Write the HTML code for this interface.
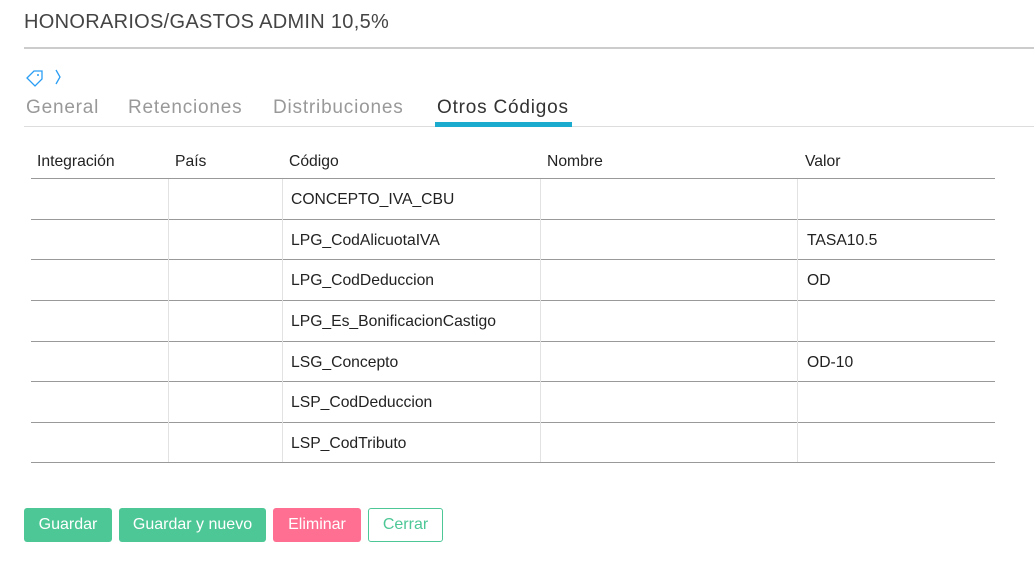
<!DOCTYPE html><html><head><style>
body{margin:0;width:1034px;height:569px;background:#fff;position:relative;overflow:hidden;font-family:"Liberation Sans",sans-serif}
.a{position:absolute;white-space:nowrap}
.t{font-size:19px;color:#999;top:97px;letter-spacing:0.8px}
.h{font-size:15.7px;color:#222;top:153px}
.c{font-size:15.7px;color:#222}
.hl{position:absolute;left:31px;width:964px;height:1px;background:#999}
.vl{position:absolute;top:179px;height:283px;width:1px;background:#e2e2e2}
.b{position:absolute;top:508px;height:34px;line-height:34px;text-align:center;color:#fff;font-size:16px;border-radius:3px;box-sizing:border-box}
</style></head><body>
<div class="a" style="left:24px;top:11px;font-size:20px;color:#444;letter-spacing:0.3px">HONORARIOS/GASTOS ADMIN 10,5%</div>
<div class="a" style="left:24px;top:47px;width:1010px;height:2px;background:#ccc"></div>
<svg class="a" style="left:25px;top:68px" width="40" height="20"><path d="M2 10 L9 3 L17 3 L17 11 L10 18 Z" fill="none" stroke="#2a9df4" stroke-width="1.3"/><circle cx="13" cy="7" r="1" fill="#2a9df4"/><path d="M31 2 L35 9 L31 16" fill="none" stroke="#2a9df4" stroke-width="1.3"/></svg>
<div class="a t" style="left:26px">General</div>
<div class="a t" style="left:128px">Retenciones</div>
<div class="a t" style="left:273px">Distribuciones</div>
<div class="a t" style="left:437px;color:#333">Otros Códigos</div>
<div class="a" style="left:24px;top:126px;width:1010px;height:1px;background:#ddd"></div>
<div class="a" style="left:435px;top:122px;width:137px;height:5px;background:#1aabcf"></div>
<div class="a h" style="left:37px">Integración</div>
<div class="a h" style="left:175px">País</div>
<div class="a h" style="left:289px">Código</div>
<div class="a h" style="left:547px">Nombre</div>
<div class="a h" style="left:805px">Valor</div>
<div class="hl" style="top:178px"></div>
<div class="hl" style="top:219px"></div>
<div class="hl" style="top:259px"></div>
<div class="hl" style="top:300px"></div>
<div class="hl" style="top:341px"></div>
<div class="hl" style="top:381px"></div>
<div class="hl" style="top:422px"></div>
<div class="hl" style="top:462px"></div>
<div class="vl" style="left:168px"></div><div class="vl" style="left:282px"></div><div class="vl" style="left:540px"></div><div class="vl" style="left:797px"></div>
<div class="a c" style="left:291px;top:191px">CONCEPTO_IVA_CBU</div>
<div class="a c" style="left:291px;top:232px">LPG_CodAlicuotaIVA</div>
<div class="a c" style="left:807px;top:232px">TASA10.5</div>
<div class="a c" style="left:291px;top:272px">LPG_CodDeduccion</div>
<div class="a c" style="left:807px;top:272px">OD</div>
<div class="a c" style="left:291px;top:313px">LPG_Es_BonificacionCastigo</div>
<div class="a c" style="left:291px;top:354px">LSG_Concepto</div>
<div class="a c" style="left:807px;top:354px">OD-10</div>
<div class="a c" style="left:291px;top:394px">LSP_CodDeduccion</div>
<div class="a c" style="left:291px;top:435px">LSP_CodTributo</div>
<div class="b" style="left:24px;width:88px;background:#4dc796">Guardar</div>
<div class="b" style="left:119px;width:147px;background:#4dc796">Guardar y nuevo</div>
<div class="b" style="left:273px;width:88px;background:#ff6f91">Eliminar</div>
<div class="b" style="left:368px;width:75px;border:1px solid #4dc796;color:#4dc796;line-height:32px">Cerrar</div>
</body></html>
